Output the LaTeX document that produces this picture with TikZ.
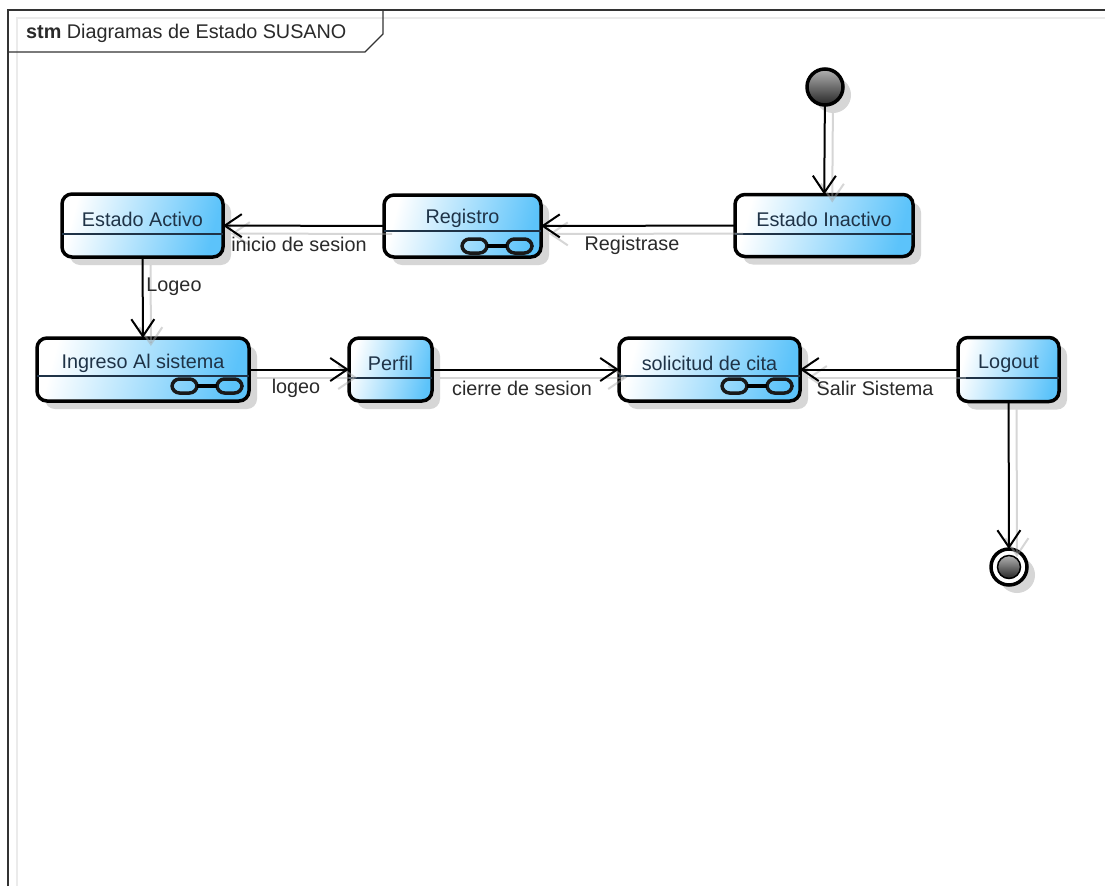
\documentclass[tikz,border=0pt]{standalone}
\usepackage{fontspec}
\setmainfont{Liberation Sans}
\usetikzlibrary{arrows.meta,shadows,calc}
\definecolor{boxblue}{HTML}{5CC3FA}
\definecolor{boxtext}{HTML}{1F3347}
\definecolor{labeltext}{HTML}{2A2A2A}
\definecolor{shadowgray}{HTML}{D6D6D6}
\tikzset{
  x=1pt,y=-1pt,
  statebox/.style={draw=black,line width=3.5pt,rounded corners=10pt,inner sep=0pt,outer sep=0pt,
    left color=white,right color=boxblue,shading angle=75,
    general shadow={shadow xshift=8pt,shadow yshift=-8pt,fill=shadowgray,draw=none}},
  statename/.style={text=boxtext,font=\fontsize{19.8}{22}\selectfont},
  edgelabel/.style={text=labeltext,font=\fontsize{19.8}{22}\selectfont,inner sep=0pt},
  divider/.style={draw=boxtext,line width=2pt},
  linkicon/.style={draw=black!90,line width=3.5pt,rounded corners=7.5pt},
  conn/.style={draw=black,line width=2pt,-{Straight Barb[length=17pt,width=23pt,line width=2pt]}},
  connshadow/.style={draw=black!35,opacity=.45,line width=2pt,-{Straight Barb[length=17pt,width=23pt,line width=2pt]},
    transform canvas={xshift=8pt,yshift=-8pt}},
  framelbl/.style={inner sep=0pt,anchor=west,text=labeltext,font=\fontsize{19.8}{22}\selectfont},
  dot/.style={circle,draw=black,line width=3.5pt,inner sep=0pt,outer sep=0pt,minimum size=36pt,
    top color=black!30,bottom color=black!85,
    general shadow={shadow xshift=8pt,shadow yshift=-8pt,fill=shadowgray,draw=none}},
  ringdot/.style={circle,draw=black,line width=3.5pt,fill=white,inner sep=0pt,outer sep=0pt,minimum size=36pt,
    general shadow={shadow xshift=8pt,shadow yshift=-8pt,fill=shadowgray,draw=none}},
  coredot/.style={circle,draw=black,line width=1.5pt,inner sep=0pt,minimum size=23pt,top color=black!30,bottom color=black!85},
}
% name, centre x, centre y, width, height, text, text lift, divider offset below centre
\newcommand{\statebox}[8]{%
  \node[statebox,minimum width=#4pt,minimum height=#5pt,
        label={[statename,yshift=#7pt]center:#6}] (#1) at (#2,#3) {};
  \draw[divider] ([yshift=-#8pt]#1.west) -- ([yshift=-#8pt]#1.east);
}
% node name, distance of right end from right border, distance of centre from bottom border
\newcommand{\linkglyph}[3]{%
  \draw[linkicon] ($(#1.south east)+(-#2-25,-#3-7)$) rectangle ($(#1.south east)+(-#2,-#3+7)$);
  \draw[linkicon] ($(#1.south east)+(-#2-70,-#3-7)$) rectangle ($(#1.south east)+(-#2-45,-#3+7)$);
  \draw[black,line width=3.5pt] ($(#1.south east)+(-#2-45,-#3)$) -- ($(#1.south east)+(-#2-25,-#3)$);
}
\begin{document}
\begin{tikzpicture}
\useasboundingbox (0,0) rectangle (1105,886);
\fill[white] (0,0) rectangle (1105,886);
% diagram frame: faint shadow, then frame and name tab
\draw[black!8,line width=1.2pt] (17,886) -- (17,18) -- (1105,18);
\draw[black!80,line width=1.2pt] (8,886) -- (8,10) -- (1105,10);
\draw[black!80,line width=1.2pt] (8,52) -- (365,52) -- (383,34) -- (383,10);
\node[framelbl] (title) at (26,33) {\textbf{stm} Diagramas de Estado SUSANO};
% states
\statebox{activo}{142.5}{225.5}{161}{63}{Estado Activo}{6}{8}
\statebox{registro}{462.5}{226}{157}{62}{Registro}{8}{5}
\statebox{inactivo}{824}{225.5}{178}{62}{Estado Inactivo}{6}{8}
\statebox{ingreso}{143}{369.5}{212}{63}{Ingreso Al sistema}{6}{6}
\statebox{perfil}{390.5}{369.5}{83}{63}{Perfil}{6}{8}
\statebox{solicitud}{709.5}{369.5}{181}{63}{solicitud de cita}{6}{6}
\statebox{logout}{1008.5}{369.5}{101}{64}{Logout}{6}{8}
\linkglyph{registro}{9}{11}
\linkglyph{ingreso}{7}{15}
\linkglyph{solicitud}{8}{15}
% pseudo-states
\node[dot] (inicio) at (825,87) {};
\node[ringdot] (fin) at (1009,567) {};
\node[coredot] (fincore) at (fin.center) {};
% connector shadows
\draw[connshadow] (inicio) -- (inactivo);
\draw[connshadow] (inactivo) -- (registro);
\draw[connshadow] (registro) -- (activo);
\draw[connshadow] (activo) -- (ingreso);
\draw[connshadow] (ingreso) -- (perfil);
\draw[connshadow] (perfil) -- (solicitud);
\draw[connshadow] (logout) -- (solicitud);
\draw[connshadow] (logout) -- (fin);
% connectors
\draw[conn] (inicio) -- (inactivo);
\draw[conn] (inactivo) -- (registro);
\draw[conn] (registro) -- (activo);
\draw[conn] (activo) -- (ingreso);
\draw[conn] (ingreso) -- (perfil);
\draw[conn] (perfil) -- (solicitud);
\draw[conn] (logout) -- (solicitud);
\draw[conn] (logout) -- (fin);
% connector labels
\node[edgelabel] (l1) at (632,245) {Registrase};
\node[edgelabel] (l2) at (299,244) {inicio de sesion};
\node[edgelabel] (l3) at (174,287) {Logeo};
\node[edgelabel] (l4) at (296,388) {logeo};
\node[edgelabel] (l5) at (522,388) {cierre de sesion};
\node[edgelabel] (l6) at (875,388) {Salir Sistema};
\end{tikzpicture}
\end{document}
